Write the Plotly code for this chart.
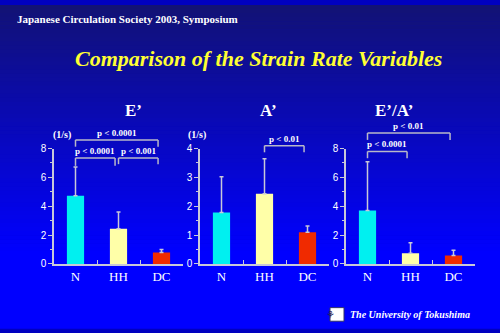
import plotly.graph_objects as go

# ---------------- data ----------------
categories = ["N", "HH", "DC"]
panel_titles = ["E\u2019", "A\u2019", "E\u2019/A\u2019"]
e_mean = [4.73, 2.44, 0.80]
e_sd = [2.0, 1.16, 0.20]
a_mean = [1.78, 2.43, 1.10]
a_sd = [1.24, 1.22, 0.22]
ea_mean = [3.70, 0.74, 0.58]
ea_sd = [3.38, 0.74, 0.38]
y_max = [8, 4, 8]
y_dtick = [2, 1, 2]
unit_label = ["(1/s)", "(1/s)", None]
bar_colors = ["#00f0f0", "#ffffa8", "#f02a00"]
# brackets: (panel, from idx, to idx, level, leg bottom, label)
brackets = [
    (0, 0, 2, 8.60, 8.13, "p < 0.0001"),
    (0, 0, 1, 7.35, 6.80, "p < 0.0001"),
    (0, 1, 2, 7.35, 6.92, "p < 0.001"),
    (1, 1, 2, 4.10, 3.87, "p < 0.01"),
    (2, 0, 2, 9.08, 8.60, "p < 0.01"),
    (2, 0, 1, 7.80, 7.33, "p < 0.0001"),
]

means = [e_mean, a_mean, ea_mean]
sds = [e_sd, a_sd, ea_sd]

W, H = 500, 333
x_domains = [(54 / W, 183 / W), (200 / W, 329 / W), (346 / W, 475 / W)]
Y0, Y1 = 1 - 267 / H, 1 - 148 / H

AX = "#c8c8d8"
SERIF = "Liberation Serif, Times New Roman, serif"
SANS = "Liberation Sans, Arial, sans-serif"

fig = go.Figure()
shapes = []
annotations = []

# background gradient (dark navy at top -> pure blue near the bottom)
n_strips = 80
top = (18, 18, 116)
bot = (0, 0, 255)
grad_end = 255 / H
for k in range(n_strips):
    y_top = k / n_strips
    t = min(1.0, (y_top + 0.5 / n_strips) / grad_end)
    c = tuple(int(round(top[i] + (bot[i] - top[i]) * t)) for i in range(3))
    shapes.append(dict(type="rect", xref="paper", yref="paper",
                       x0=0, x1=1, y0=1 - (k + 1) / n_strips - 0.002, y1=1 - y_top,
                       fillcolor="rgb(%d,%d,%d)" % c, line=dict(width=0), layer="below"))

def ypaper(v, p):
    return Y0 + v / y_max[p] * (Y1 - Y0)

for p in range(3):
    xa = "x" if p == 0 else "x%d" % (p + 1)
    ya = "y" if p == 0 else "y%d" % (p + 1)
    fig.add_trace(go.Bar(
        x=categories, y=means[p], xaxis=xa, yaxis=ya,
        marker=dict(color=bar_colors, line=dict(width=0)),
        error_y=dict(type="data", array=sds[p], arrayminus=[0, 0, 0], symmetric=False,
                     color=AX, thickness=1.5, width=2),
        showlegend=False, hoverinfo="skip"))
    xkey = "xaxis" if p == 0 else "xaxis%d" % (p + 1)
    ykey = "yaxis" if p == 0 else "yaxis%d" % (p + 1)
    fig.update_layout(**{
        xkey: dict(domain=list(x_domains[p]), anchor=ya, showline=True, linecolor=AX,
                   linewidth=1.5, ticks="inside", tickson="boundaries", ticklen=4,
                   tickcolor=AX, showgrid=False, zeroline=False,
                   tickfont=dict(family=SERIF, size=13, color="white"),
                   categoryorder="array", categoryarray=categories, fixedrange=True),
        ykey: dict(domain=[Y0, Y1], anchor=xa, range=[0, y_max[p]], dtick=y_dtick[p],
                   showline=True, linecolor=AX, linewidth=1.5, ticks="outside",
                   ticklen=4, tickcolor=AX, showgrid=False, zeroline=False,
                   minor=dict(dtick=y_dtick[p] / 2, ticks="outside", ticklen=2, tickcolor=AX),
                   tickfont=dict(family=SANS, size=10, color="white"),
                   fixedrange=True),
    })
    # panel title
    annotations.append(dict(text="<b>%s</b>" % panel_titles[p], xref="paper", yref="paper",
                            x=(x_domains[p][0] + x_domains[p][1]) / 2 + 4 / W, y=1 - 109 / H,
                            yanchor="middle", showarrow=False,
                            font=dict(family=SERIF, size=17, color="white")))
    if unit_label[p]:
        annotations.append(dict(text="<b>%s</b>" % unit_label[p], xref="paper", yref="paper",
                                x=x_domains[p][0] - 3 / W, y=1 - 134 / H, yanchor="middle",
                                showarrow=False,
                                font=dict(family=SERIF, size=10, color="white")))

for (p, i, j, lvl, leg, lab) in brackets:
    xa = "x" if p == 0 else "x%d" % (p + 1)
    xi, xj = i, j - 0.08
    yl, yb = ypaper(lvl, p), ypaper(leg, p)
    for (a0, a1, b0, b1) in [(xi, xj, yl, yl), (xi, xi, yl, yb), (xj, xj, yl, yb)]:
        shapes.append(dict(type="line", xref=xa, yref="paper", x0=a0, x1=a1, y0=b0, y1=b1,
                           line=dict(color="#b8b8c8", width=1.5)))
    annotations.append(dict(text="<b>%s</b>" % lab, xref=xa, yref="paper",
                            x=(xi + xj) / 2, y=yl, yanchor="bottom", yshift=0,
                            showarrow=False, font=dict(family=SERIF, size=9, color="white")))

# header / title / footer
annotations.append(dict(text="<b>Japanese Circulation Society 2003, Symposium</b>",
                        xref="paper", yref="paper", x=15 / W, y=1 - 14 / H, xanchor="left",
                        yanchor="middle", showarrow=False,
                        font=dict(family=SERIF, size=11, color="white")))
annotations.append(dict(text="<b><i>Comparison of the Strain Rate Variables</i></b>",
                        xref="paper", yref="paper", x=258 / W, y=1 - 55 / H,
                        yanchor="middle", showarrow=False,
                        font=dict(family=SERIF, size=22, color="#ffff33")))
annotations.append(dict(text="<b><i>The University of Tokushima</i></b>",
                        xref="paper", yref="paper", x=348 / W, y=1 - 319 / H, xanchor="left",
                        yanchor="middle", showarrow=False,
                        font=dict(family=SERIF, size=10, color="white")))
shapes.append(dict(type="rect", xref="paper", yref="paper", x0=330 / W, x1=344 / W,
                   y0=1 - 326 / H, y1=1 - 312 / H, fillcolor="white",
                   line=dict(color="#333366", width=1)))
annotations.append(dict(text="\u2698", xref="paper", yref="paper", x=337 / W, y=1 - 319 / H,
                        yanchor="middle", showarrow=False,
                        font=dict(family="DejaVu Sans", size=10, color="#222255")))

fig.update_layout(
    width=W, height=H, margin=dict(l=0, r=0, t=0, b=0),
    paper_bgcolor="#0000c0", plot_bgcolor="rgba(0,0,0,0)",
    bargap=0.6, shapes=shapes, annotations=annotations, showlegend=False,
)

fig.write_html("out.html", config={"displayModeBar": False})
